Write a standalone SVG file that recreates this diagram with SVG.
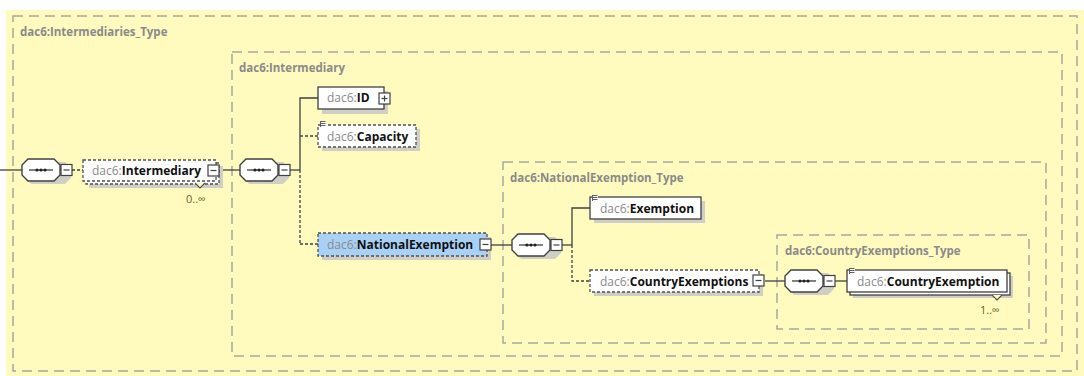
<svg xmlns="http://www.w3.org/2000/svg" xmlns:xlink="http://www.w3.org/1999/xlink" width="1084" height="376" viewBox="0 0 1084 376">
<style>
.frame{fill:none;stroke:#a8a8a0;stroke-width:1.5;stroke-dasharray:10,6}
.ftitle{font-family:"Open Sans","DejaVu Sans",sans-serif;font-size:11.5px;font-weight:bold;fill:#8a8a8a}
.ntext{font-family:"Open Sans","DejaVu Sans",sans-serif;font-size:12px;fill:#111}
.pre{fill:#8a8a8a;font-weight:normal}
.nm{font-weight:bold}
.node{fill:#fff;stroke:#404040;stroke-width:1.3}
.opt{fill:#fff;stroke:#505050;stroke-width:1.3;stroke-dasharray:3,2}
.sh{fill:#cfcfc6}
.ln{stroke:#404040;stroke-width:1.3;fill:none}
.dl{stroke:#404040;stroke-width:1.3;fill:none;stroke-dasharray:3,2}
.card{font-family:"Open Sans","DejaVu Sans",sans-serif;font-size:11px;fill:#6b5a2a}
</style>
<defs>
<g id="seq">
<path d="M9,-8 H43 L49,-2 V8 L43,14 H9 L3,8 V-2 Z" fill="#cfcfc6"/>
<path d="M6,-11 H32 L38,-5 V5 L32,11 H6 L0,5 V-5 Z" fill="#fff" stroke="#404040" stroke-width="1.4"/>
<line x1="7" y1="0" x2="31" y2="0" stroke="#303030" stroke-width="1.2"/>
<circle cx="15" cy="0" r="1.6" fill="#202020"/>
<circle cx="19" cy="0" r="1.6" fill="#202020"/>
<circle cx="23" cy="0" r="1.6" fill="#202020"/>
<line x1="38" y1="0" x2="39" y2="0" stroke="#404040" stroke-width="1.2"/>
<rect x="39" y="-5.5" width="11" height="11" fill="#fff" stroke="#404040" stroke-width="1.2"/>
<line x1="41.5" y1="0" x2="47.5" y2="0" stroke="#404040" stroke-width="1.2"/>
</g>
<g id="minus">
<rect x="0" y="0" width="11" height="11" fill="#fff" stroke="#404040" stroke-width="1.2"/>
<line x1="2.5" y1="5.5" x2="8.5" y2="5.5" stroke="#404040" stroke-width="1.2"/>
</g>
<g id="icon">
<rect x="0" y="0" width="6" height="6" fill="#fff"/>
<line x1="0.5" y1="0.5" x2="5.5" y2="0.5" stroke="#606060" stroke-width="1"/>
<line x1="0.5" y1="2.5" x2="5.5" y2="2.5" stroke="#606060" stroke-width="1"/>
<line x1="0.5" y1="4.5" x2="5.5" y2="4.5" stroke="#606060" stroke-width="1"/>
<line x1="0.5" y1="0" x2="0.5" y2="6" stroke="#606060" stroke-width="1"/>
</g>
</defs>

<rect x="6" y="10" width="1078" height="366" fill="#fffbbe"/>

<g id="frames">
<rect class="frame" x="13" y="16" width="1064" height="355"/>
<text class="ftitle" x="20" y="36">dac6:Intermediaries_Type</text>
<rect class="frame" x="232" y="52" width="830" height="304"/>
<text class="ftitle" x="239" y="72">dac6:Intermediary</text>
<rect class="frame" x="503" y="162" width="543" height="181"/>
<text class="ftitle" x="510" y="182">dac6:NationalExemption_Type</text>
<rect class="frame" x="777" y="235" width="252" height="94"/>
<text class="ftitle" x="785" y="255">dac6:CountryExemptions_Type</text>
</g>

<g id="connectors">
<line class="ln" x1="0" y1="170" x2="22" y2="170"/>
<line class="dl" x1="72" y1="170" x2="83" y2="170"/>
<line class="ln" x1="220" y1="170" x2="240" y2="170"/>
<line class="ln" x1="290" y1="170" x2="300" y2="170"/>
<polyline class="ln" points="300,170 300,98 318,98"/>
<line class="dl" x1="300" y1="170" x2="300" y2="244"/>
<line class="dl" x1="300" y1="136" x2="318" y2="136"/>
<line class="dl" x1="300" y1="244" x2="318" y2="244"/>
<line class="ln" x1="491" y1="245" x2="512" y2="245"/>
<line class="ln" x1="562" y1="245" x2="572" y2="245"/>
<polyline class="ln" points="572,245 572,208 590,208"/>
<polyline class="dl" points="572,245 572,281 590,281"/>
<line class="ln" x1="765" y1="281" x2="785" y2="281"/>
<line class="ln" x1="835" y1="281" x2="847" y2="281"/>
</g>

<g id="seq1"><use xlink:href="#seq" href="#seq" x="22" y="170"/></g>

<g id="intermediary">
<rect class="sh" x="89" y="166" width="134" height="22"/>
<rect class="opt" x="86" y="163" width="133" height="21"/>
<rect class="opt" x="83" y="160" width="133" height="21"/>
<text class="ntext" x="92" y="175"><tspan class="pre">dac6:</tspan><tspan class="nm">Intermediary</tspan></text>
<use xlink:href="#minus" href="#minus" x="208" y="165"/>
<polyline points="195,183 200,188 205,183" fill="#fffbbe" stroke="#505050" stroke-width="1.1"/>
<text class="card" x="186" y="203">0..∞</text>
</g>

<g id="seq2"><use xlink:href="#seq" href="#seq" x="240" y="170"/></g>

<g id="id">
<rect class="sh" x="322" y="91" width="66" height="23"/>
<rect class="node" x="318" y="87" width="66" height="22"/>
<text class="ntext" x="327" y="102"><tspan class="pre">dac6:</tspan><tspan class="nm">ID</tspan></text>
<rect x="379" y="93" width="11" height="11" fill="#fff" stroke="#404040" stroke-width="1.2"/>
<line x1="381.5" y1="98.5" x2="387.5" y2="98.5" stroke="#404040" stroke-width="1.2"/>
<line x1="384.5" y1="95.5" x2="384.5" y2="101.5" stroke="#404040" stroke-width="1.2"/>
</g>

<g id="capacity">
<rect class="sh" x="322" y="129" width="98" height="22"/>
<rect class="opt" x="318" y="125" width="98" height="22"/>
<use xlink:href="#icon" href="#icon" x="320" y="121"/>
<text class="ntext" x="327" y="141"><tspan class="pre">dac6:</tspan><tspan class="nm">Capacity</tspan></text>
</g>

<g id="nationalExemption">
<rect class="sh" x="322" y="237" width="169" height="23"/>
<rect x="318" y="233" width="169" height="23" fill="#a9d0f5" stroke="#505050" stroke-width="1.3" stroke-dasharray="3,2"/>
<text class="ntext" x="327" y="249"><tspan class="pre">dac6:</tspan><tspan class="nm">NationalExemption</tspan></text>
<use xlink:href="#minus" href="#minus" x="480" y="239"/>
</g>

<g id="seq3"><use xlink:href="#seq" href="#seq" x="512" y="245"/></g>

<g id="exemption">
<rect class="sh" x="594" y="201" width="111" height="22"/>
<rect class="node" x="590" y="197" width="111" height="22"/>
<use xlink:href="#icon" href="#icon" x="592" y="195"/>
<text class="ntext" x="600" y="213"><tspan class="pre">dac6:</tspan><tspan class="nm">Exemption</tspan></text>
</g>

<g id="countryExemptions">
<rect class="sh" x="594" y="274" width="169" height="22"/>
<rect class="opt" x="590" y="270" width="169" height="22"/>
<text class="ntext" x="600" y="286"><tspan class="pre">dac6:</tspan><tspan class="nm">CountryExemptions</tspan></text>
<use xlink:href="#minus" href="#minus" x="753" y="275"/>
</g>

<g id="seq4"><use xlink:href="#seq" href="#seq" x="785" y="281"/></g>

<g id="countryExemption">
<rect class="sh" x="853" y="276" width="160" height="22"/>
<rect class="node" x="850" y="273" width="160" height="22"/>
<rect class="node" x="847" y="270" width="160" height="22"/>
<use xlink:href="#icon" href="#icon" x="849" y="268"/>
<text class="ntext" x="857" y="286"><tspan class="pre">dac6:</tspan><tspan class="nm">CountryExemption</tspan></text>
<polyline points="992,295 997,300 1002,295" fill="#fffbbe" stroke="#505050" stroke-width="1.1"/>
<text class="card" x="980" y="314">1..∞</text>
</g>
</svg>
